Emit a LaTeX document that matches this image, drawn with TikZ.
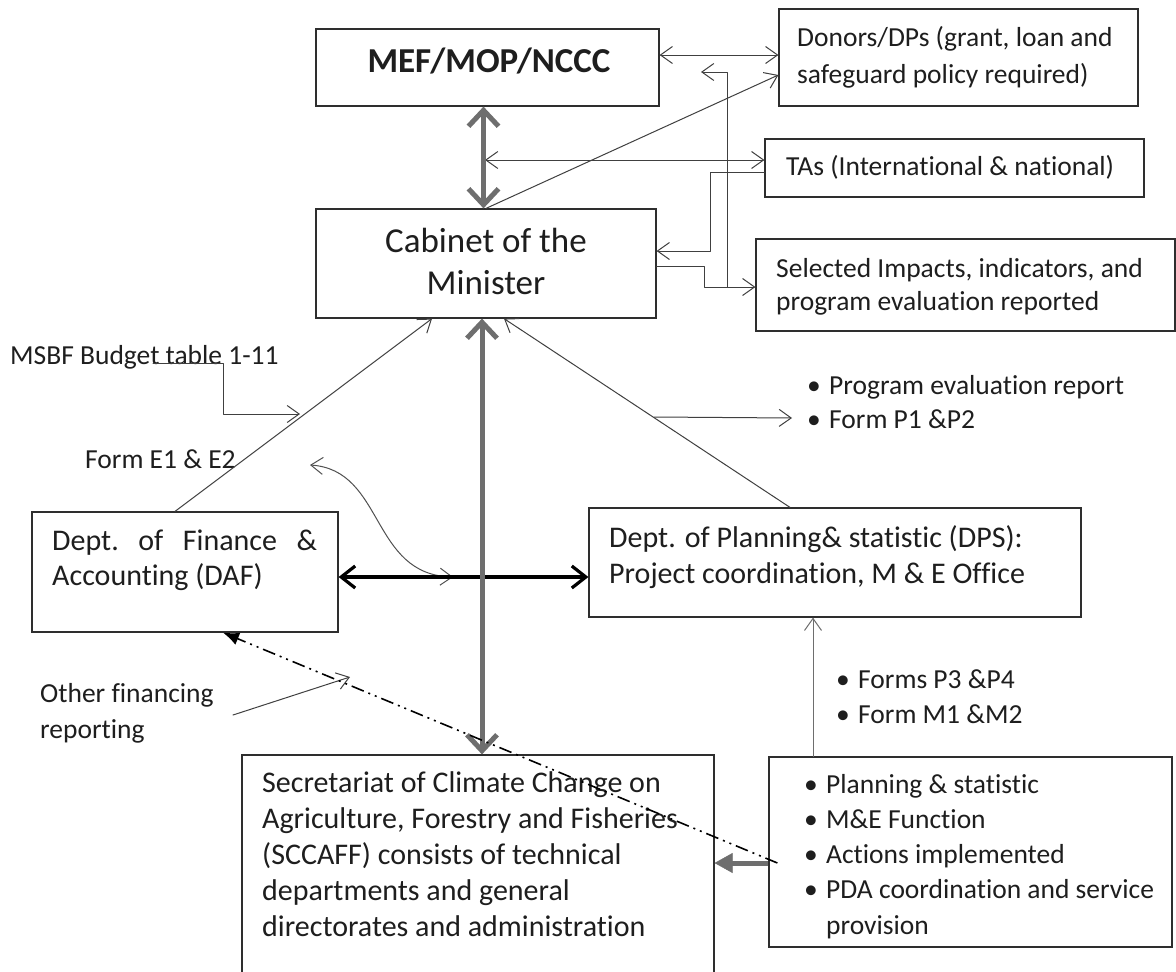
\documentclass[tikz,border=0pt]{standalone}
\usepackage{fontspec}
\setmainfont{Carlito}[Ligatures={NoCommon,NoContextual}]
\usetikzlibrary{arrows.meta,calc}
\definecolor{txtc}{HTML}{1E1E1E}
\definecolor{boxc}{HTML}{2E2E2E}
\definecolor{linec}{HTML}{404040}
\definecolor{curvc}{HTML}{505050}
\definecolor{grayc}{HTML}{6E6E6E}
\newcommand\fs[2]{\fontsize{#1}{#2}\selectfont}
\newcommand\bl{\makebox[22pt][l]{\textbullet}}
\tikzset{
  box/.style={draw=boxc,line width=1.2pt,rectangle,inner sep=0pt},
  txt/.style={inner sep=0pt,anchor=base west,align=flush left,text=txtc,font=\fs{27.5}{35}},
  conn/.style={draw=linec,line width=1pt,line cap=round,line join=round},
  otip/.tip={Straight Barb[length=12pt,width=17pt]},
  thk/.style={draw=grayc,line width=5pt},
  ttip/.tip={Straight Barb[length=16pt,width=30pt]},
  bk/.style={draw=black,line width=3.2pt},
  btip/.tip={Straight Barb[length=14pt,width=22pt]},
}
\begin{document}
\begin{tikzpicture}[x=1pt,y=-1pt]
\useasboundingbox (0,0) rectangle (1176,972);
\fill[white] (0,0) rectangle (1176,972);
\clip (0,0) rectangle (1176,972);

% boxes
\node[box,minimum width=343pt,minimum height=77pt] (mef) at (487.5,67.5) {};
\node[box,minimum width=359pt,minimum height=97pt] (donors) at (958.5,57.5) {};
\node[box,minimum width=379pt,minimum height=58pt] (tas) at (954.5,168) {};
\node[box,minimum width=419pt,minimum height=92pt] (sel) at (965.5,285) {};
\node[box,minimum width=340pt,minimum height=109pt] (cab) at (486,263.5) {};
\node[box,minimum width=306pt,minimum height=120pt] (daf) at (185,572) {};
\node[box,minimum width=492pt,minimum height=109pt] (dps) at (835,562.5) {};
\node[box,minimum width=472pt,minimum height=245pt] (sec) at (478,877.5) {};
\node[box,minimum width=403pt,minimum height=190pt] (rb) at (970.5,852) {};

% texts
\node[txt,anchor=base,font=\bfseries\fs{35}{42}] (mef-t) at (489,72) {MEF/MOP/NCCC};
\node[txt,text width=340pt,font=\fs{27.5}{37}] (donors-t) at (797,46) {Donors/DPs (grant, loan and\\safeguard policy required)};
\node[txt] (tas-t) at (786,175) {TAs (International \& national)};
\node[txt,text width=400pt,font=\fs{27.5}{33}] (sel-t) at (776,277) {Selected Impacts, indicators, and\\program evaluation reported};
\node[txt,text width=330pt,align=flush center,anchor=base,font=\fs{35}{42}] (cab-t) at (486,252) {Cabinet of the\\Minister};
\node[txt] (msbf) at (10,364) {MSBF Budget table 1-11};
\node[txt] (form-e) at (85,468) {Form E1 \& E2};
\node[txt,text width=265pt,font=\fs{30}{35}] (daf-t) at (52,550) {Dept.\hfill of\hfill Finance\hfill\&\\Accounting (DAF)};
\node[txt,text width=470pt,font=\fs{30}{36}] (dps-t) at (609,547) {Dept. of Planning\& statistic (DPS):\\Project coordination, M \& E Office};
\node[txt,text width=340pt,font=\fs{27.5}{34}] (pe-t) at (807,394) {\bl Program evaluation report\\\bl Form P1 \&P2};
\node[txt,text width=300pt] (fp-t) at (836,688) {\bl Forms P3 \&P4\\\bl Form M1 \&M2};
\node[txt,text width=360pt,font=\fs{27.5}{35.3}] (rb-t) at (804,793) {\bl Planning \& statistic\\\bl M\&E Function\\\bl Actions implemented\\\bl PDA coordination and service\\\hspace*{22pt}provision};
\node[txt,text width=220pt,font=\fs{27.5}{36}] (other) at (40,702) {Other financing\\reporting};
\node[txt,text width=460pt,font=\fs{30}{36.2}] (sec-t) at (262,792) {Secretariat of Climate Change on\\Agriculture, Forestry and Fisheries\\(SCCAFF) consists of technical\\departments and general\\directorates and administration};

% coordinates
\coordinate (tajoin) at (485,160);
\coordinate (b1) at (710,172);
\coordinate (b2) at (710,251);
\coordinate (b3) at (704,266);
\coordinate (b4) at (704,287);
\coordinate (b5) at (727,287);
\coordinate (b6) at (727,72);
\coordinate (b7) at (701,72);
\coordinate (m1) at (153,363);
\coordinate (m2) at (223,363);
\coordinate (m3) at (223,414);
\coordinate (m4) at (300,414);
\coordinate (c1) at (310,465);
\coordinate (c2) at (453,577);
\coordinate (of1) at (233,715);
\coordinate (of2) at (350,677);
\coordinate (pe1) at (654,417);
\coordinate (pe2) at (792,418);

% thin connectors
\draw[conn,{otip}-{otip}] ([yshift=12.5pt]mef.east) -- ([yshift=12.5pt]mef.east -| donors.west);
\draw[conn,-{otip}] (cab.north) -- ([yshift=-17.5pt]donors.west);
\draw[conn,{otip}-{otip}] (tajoin) -- (tajoin -| tas.west);
\draw[conn,-{otip}] (tas.west |- b1) -- (b1) -- (b2) -- (cab.east |- b2);
\draw[conn,-{otip}] (cab.east |- b3) -- (b3) -- (b4) -- (sel.west |- b4);
\draw[conn,-{otip}] (b5) -- (b6) -- (b7);
\draw[conn,-{otip}] ([xshift=-10pt]daf.north) -- ([xshift=-54pt]cab.south);
\draw[conn,-{otip}] ([xshift=-45pt]dps.north) -- ([xshift=18pt]cab.south);
\draw[conn,-{otip}] (m1) -- (m2) -- (m3) -- (m4);
\draw[conn,draw=curvc,{otip}-{otip}] (c1) .. controls (385,470) and (370,575) .. (c2);
\draw[conn,-{otip}] (of1) -- (of2);
\draw[conn,-{otip}] (pe1) -- (pe2);
\draw[conn,draw=grayc,-{otip}] ([xshift=-157.5pt]rb.north) -- ([xshift=-157.5pt]rb.north |- dps.south);

% thick connectors
\draw[bk,{btip}-{btip}] ([yshift=-5pt]daf.east) -- ([yshift=-5pt]daf.east -| dps.west);
\draw[thk,{ttip}-{ttip}] ([xshift=-4pt]mef.south) -- ([xshift=-4pt]mef.south |- cab.north);
\draw[thk,{ttip}-{ttip}] ([xshift=-4pt]cab.south) -- ([xshift=-4pt]cab.south |- sec.north);
\draw[thk,-{Triangle[length=18pt,width=20pt,line width=0.5pt]}] ([yshift=-11pt]rb.west) -- ([yshift=-11pt]rb.west -| sec.east);

% dash-dot
\draw[draw=black,line width=1.6pt,dash pattern=on 13pt off 5pt on 2pt off 5pt on 2pt off 5pt,-{Latex[length=16pt,width=13pt]}] ([xshift=9pt,yshift=-11pt]rb.west) -- ([xshift=38pt]daf.south);
\end{tikzpicture}
\end{document}
